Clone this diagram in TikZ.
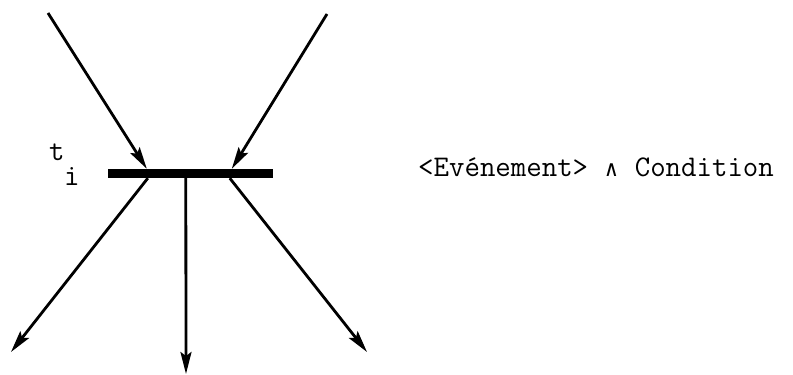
\documentclass[tikz,border=0pt]{standalone}
\usepackage{fontspec}
\newfontfamily\djm{DejaVu Sans Mono}
\usetikzlibrary{arrows.meta,calc}
\begin{document}
\begin{tikzpicture}[x=1pt,y=1pt,
  arc/.style={line width=2.8pt,-{Stealth[length=22pt,width=11pt,inset=4pt]}},
  txt/.style={font=\ttfamily\fontsize{30}{34}\selectfont,inner sep=0pt,anchor=base west}]
\useasboundingbox (0,0) rectangle (793,375);
\node[fill=black,minimum width=165pt,minimum height=9pt,inner sep=0pt] (t) at (190.5,201.5) {};
\coordinate (s1) at (48,362);
\coordinate (s2) at (327,361);
\coordinate (e1) at (11,23);
\coordinate (e2) at (186,1);
\coordinate (e3) at (367,23);
\coordinate (b1) at ($(t.north west)+(39,0)$);
\coordinate (b2) at ($(t.north west)+(124,0)$);
\coordinate (c1) at ($(t.south west)+(40,0)$);
\coordinate (c2) at ($(t.south west)+(78,0)$);
\coordinate (c3) at ($(t.south west)+(122,0)$);
\draw[arc] (s1) -- (b1);
\draw[arc] (s2) -- (b2);
\draw[arc] (c1) -- (e1);
\draw[arc] (c2) -- (e2);
\draw[arc] (c3) -- (e3);
\node[txt] (lt) at (49,214) {t};
\node[txt] (li) at (64,189) {i};
\node[txt] (lab) at (418,198) {<Evénement> \makebox[15.75pt]{\djm\fontsize{22}{26}\selectfont ∧} Condition};
\end{tikzpicture}
\end{document}
